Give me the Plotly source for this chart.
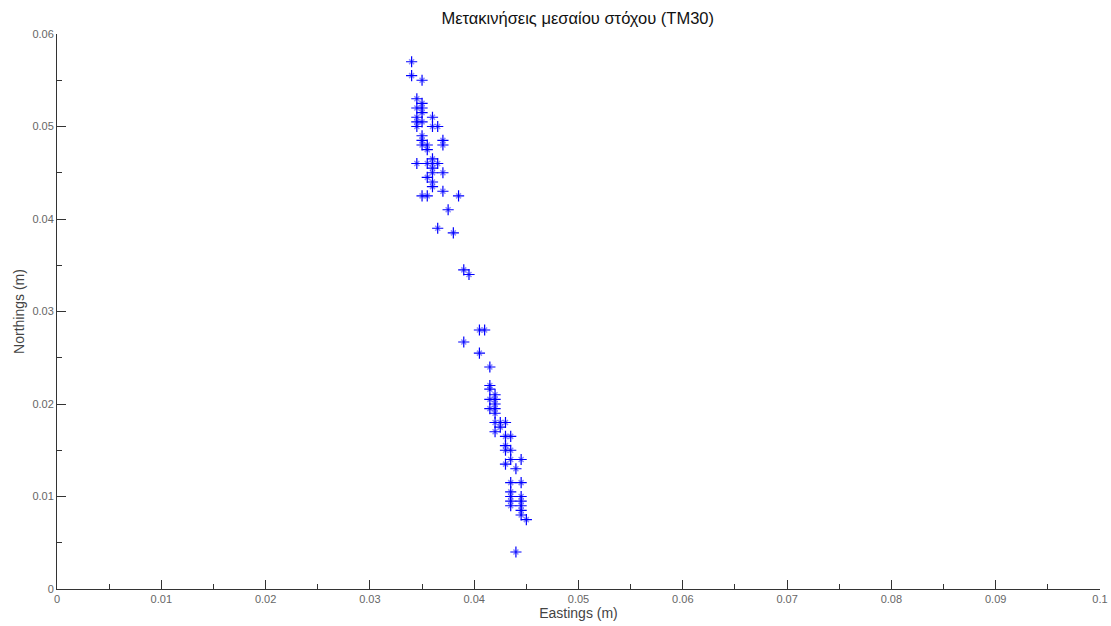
import plotly.graph_objects as go

# Target displacements (m)
eastings = [
    0.034, 0.034, 0.035, 0.0345, 0.035, 0.0345, 0.035, 0.035, 0.0345, 0.036,
    0.0345, 0.035, 0.0345, 0.036, 0.0365, 0.035, 0.035, 0.0355, 0.037, 0.035,
    0.037, 0.0355, 0.036, 0.0345, 0.0355, 0.036, 0.0365, 0.036, 0.036, 0.037,
    0.0355, 0.036, 0.036, 0.037, 0.035, 0.0355, 0.0385, 0.0375, 0.0365, 0.038,
    0.039, 0.0395, 0.0405, 0.041, 0.039, 0.0405,
    0.0415, 0.0415, 0.0415, 0.042, 0.0415, 0.042, 0.042, 0.0415, 0.042, 0.042,
    0.042, 0.0425, 0.043, 0.0425, 0.042, 0.043, 0.0435, 0.043, 0.043, 0.0435,
    0.0435, 0.0445, 0.043, 0.044, 0.0435, 0.0445, 0.0435, 0.0435, 0.0445, 0.0435,
    0.0445, 0.0435, 0.0445, 0.0445, 0.0445, 0.045, 0.044,
]
northings = [
    0.057, 0.0555, 0.055, 0.053, 0.0525, 0.052, 0.052, 0.0515, 0.051, 0.051,
    0.0505, 0.0505, 0.050, 0.050, 0.050, 0.049, 0.0485, 0.048, 0.0485, 0.048,
    0.048, 0.0475, 0.0465, 0.046, 0.046, 0.046, 0.046, 0.0455, 0.045, 0.045,
    0.0445, 0.044, 0.0435, 0.043, 0.0425, 0.0425, 0.0425, 0.041, 0.039, 0.0385,
    0.0345, 0.034, 0.028, 0.028, 0.0267, 0.0255,
    0.024, 0.022, 0.0216, 0.021, 0.0205, 0.0205, 0.020, 0.0195, 0.0195, 0.019,
    0.018, 0.018, 0.018, 0.0175, 0.017, 0.0165, 0.0165, 0.0155, 0.015, 0.015,
    0.014, 0.014, 0.0135, 0.013, 0.0115, 0.0115, 0.0105, 0.010, 0.010, 0.0095,
    0.0095, 0.009, 0.009, 0.0085, 0.008, 0.0075, 0.004,
]

x_ticks = [0, 0.01, 0.02, 0.03, 0.04, 0.05, 0.06, 0.07, 0.08, 0.09, 0.1]
y_ticks = [0, 0.01, 0.02, 0.03, 0.04, 0.05, 0.06]

fig = go.Figure()
# '*' marker: strong plus with a fainter diagonal cross
fig.add_trace(go.Scatter(
    x=eastings, y=northings, mode="markers", hoverinfo="skip",
    marker=dict(symbol="x-thin-open", size=5, color="rgba(0,0,255,0.45)",
                line=dict(color="rgba(0,0,255,0.45)", width=1.5)),
    showlegend=False,
))
fig.add_trace(go.Scatter(
    x=eastings, y=northings, mode="markers",
    marker=dict(symbol="cross-thin-open", size=8, color="#0000ff",
                line=dict(color="#0000ff", width=1.2)),
    showlegend=False,
))

axis_common = dict(
    showgrid=False, zeroline=False, showline=True, linecolor="#333333",
    linewidth=1, ticks="inside", ticklen=9, tickcolor="#333333", automargin=False,
    tickfont=dict(family="Liberation Sans, Arial, sans-serif", size=11, color="#666666"),
)

fig.update_layout(
    width=1111, height=626,
    paper_bgcolor="white", plot_bgcolor="white",
    margin=dict(l=57, r=11, t=34, b=37),
    title=dict(text="Μετακινήσεις μεσαίου στόχου (TM30)", x=0.52, xanchor="center",
               y=0.971, yanchor="middle",
               font=dict(family="Liberation Sans, Arial, sans-serif", size=16.5, color="#111111")),
    xaxis=dict(
        range=[0, 0.1], tickvals=x_ticks, ticktext=[f"{v:g}" for v in x_ticks],
        minor=dict(dtick=0.005, tick0=0, ticks="inside", ticklen=5, tickcolor="#333333"),
        title=dict(text="Eastings (m)", standoff=2,
                   font=dict(family="Liberation Sans, Arial, sans-serif", size=14, color="#444444")),
        **axis_common,
    ),
    yaxis=dict(
        range=[0, 0.06], tickvals=y_ticks, ticktext=[f"{v:g}" for v in y_ticks],
        minor=dict(dtick=0.005, tick0=0, ticks="inside", ticklen=5, tickcolor="#333333"),
        title=dict(text="Northings (m)", standoff=4,
                   font=dict(family="Liberation Sans, Arial, sans-serif", size=14, color="#444444")),
        **axis_common,
    ),
)

fig.write_html("out.html")
